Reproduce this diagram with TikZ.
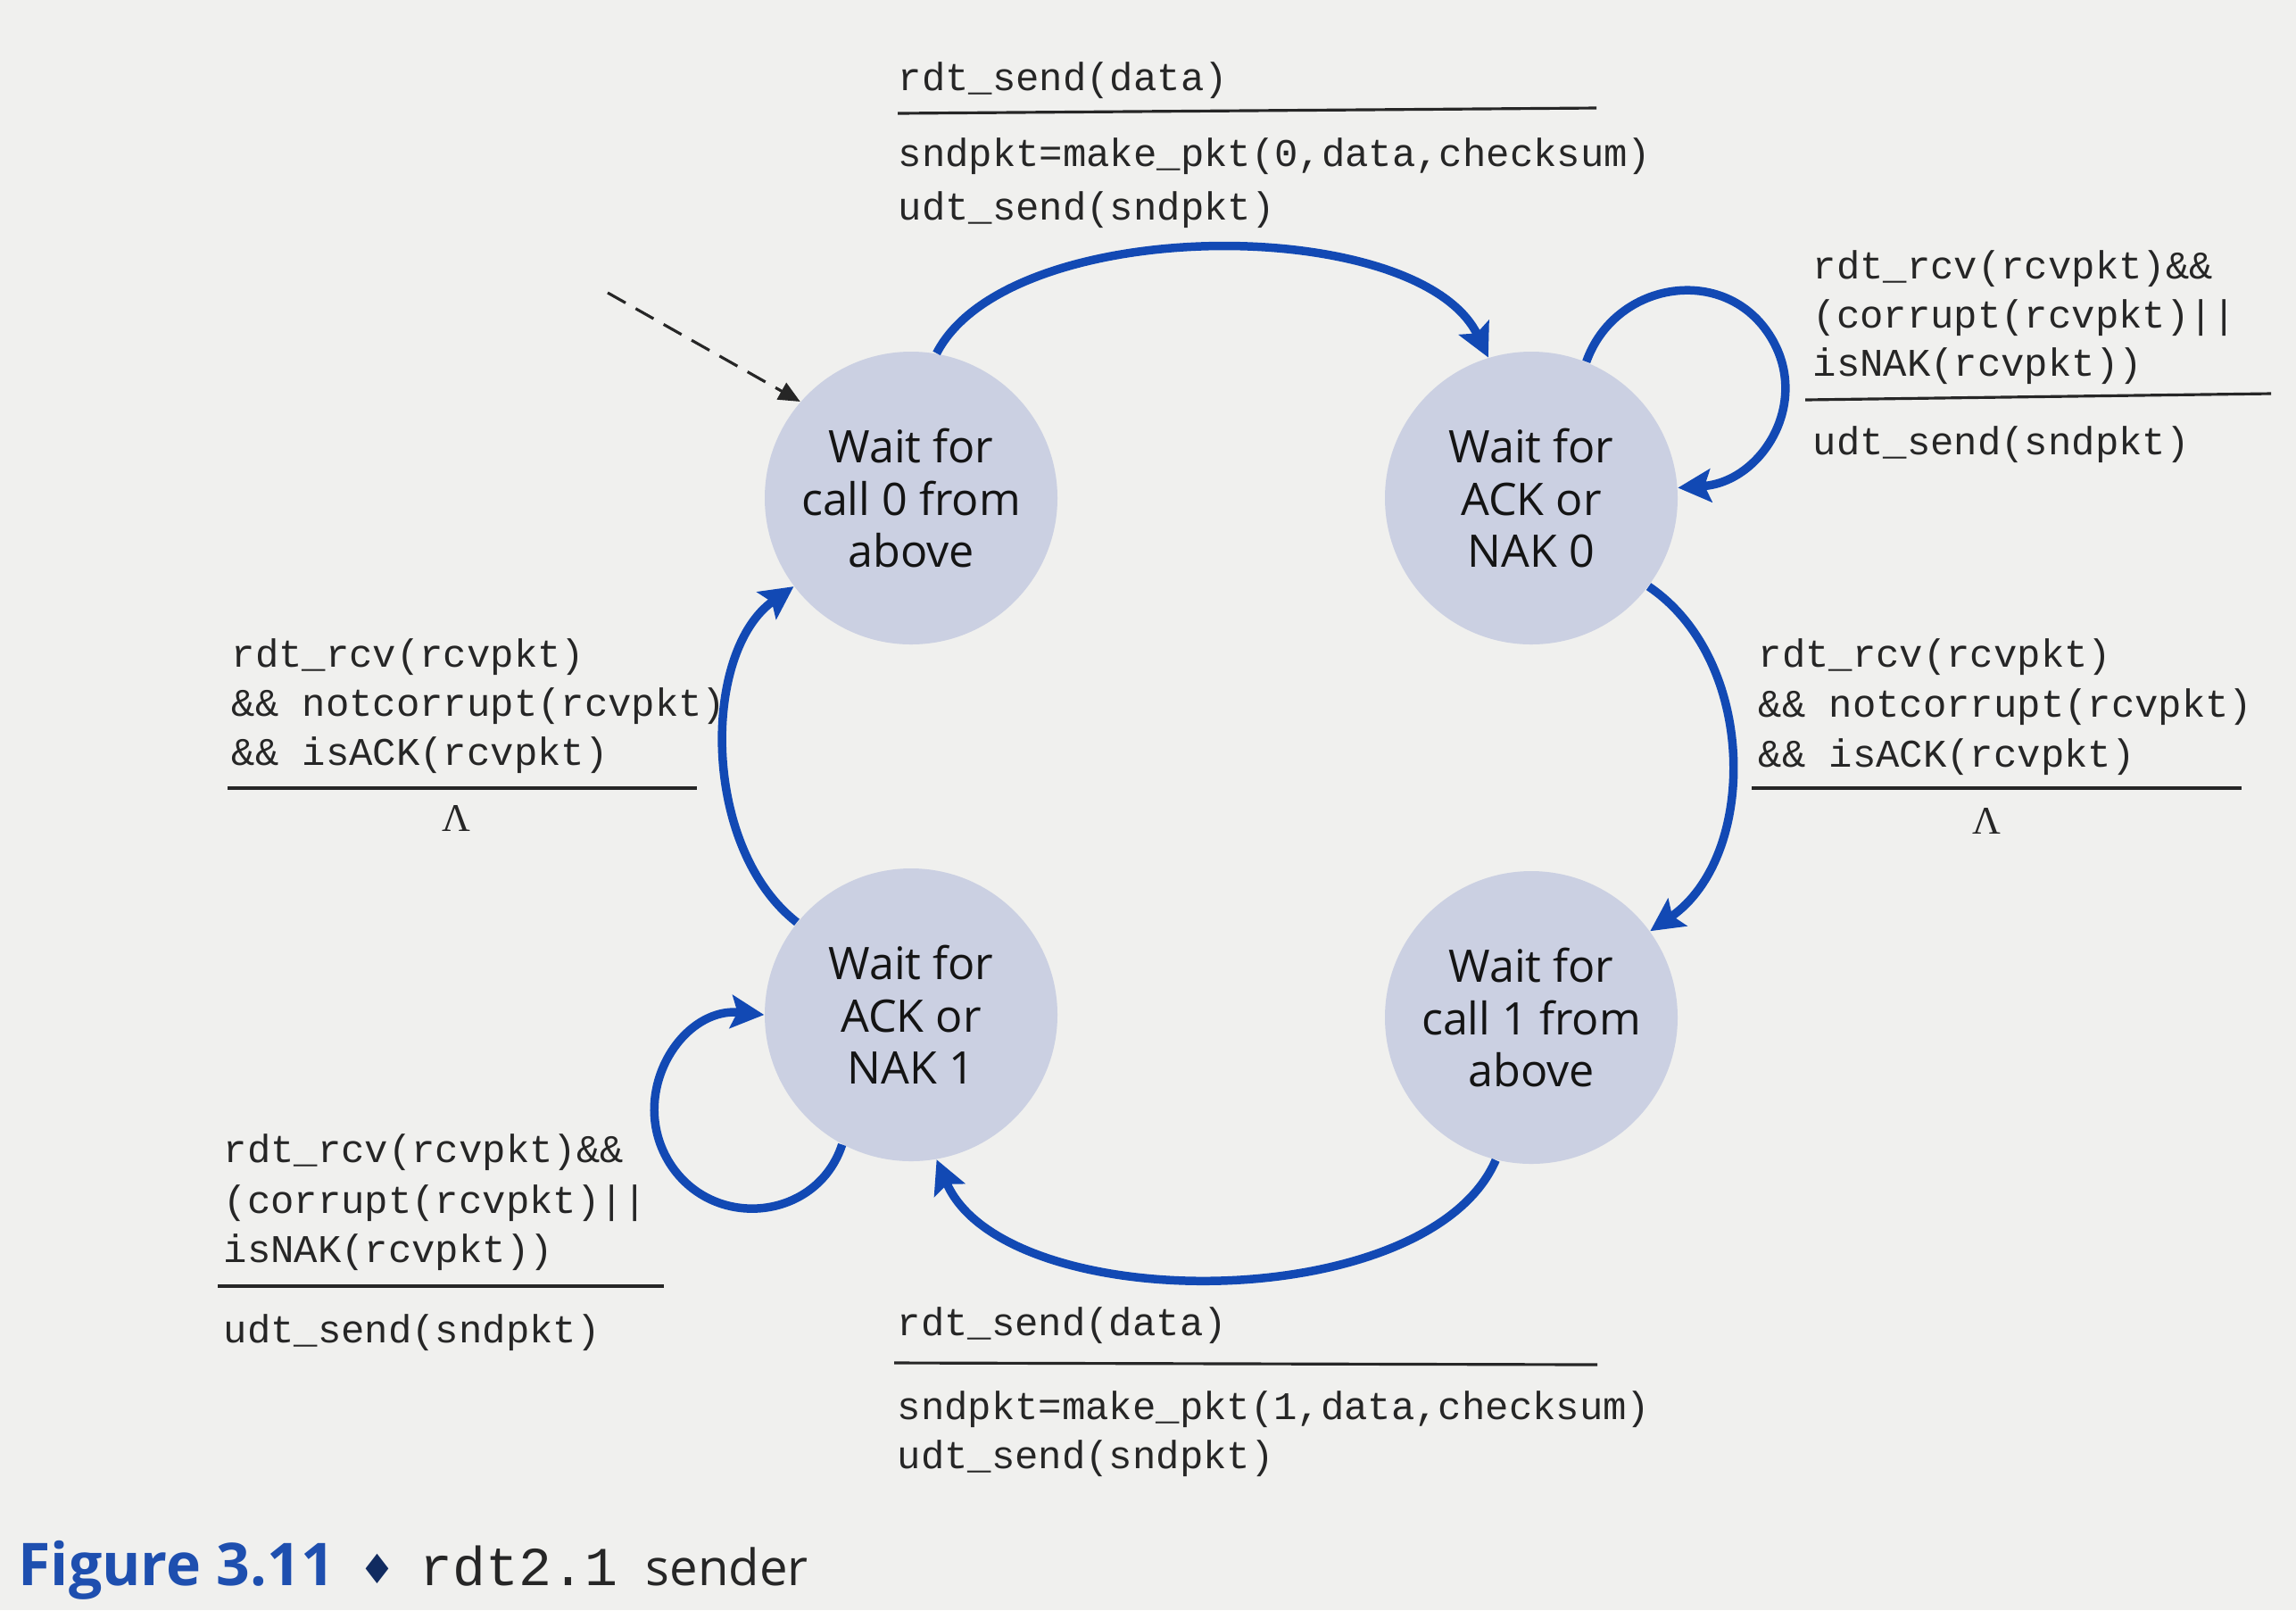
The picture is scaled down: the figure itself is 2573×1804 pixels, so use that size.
\documentclass[tikz,border=0pt]{standalone}
\usepackage{fontspec}
\setmainfont{Open Sans}
\setmonofont{Liberation Mono}
\newfontfamily\symfont{DejaVu Sans}
\newfontfamily\grkfont{Liberation Serif}
\usetikzlibrary{arrows.meta}
\definecolor{paper}{HTML}{F0F0EE}
\definecolor{statefill}{HTML}{CBD0E2}
\definecolor{fsmblue}{HTML}{1249B4}
\definecolor{capblue}{HTML}{1E4FAF}
\definecolor{ink}{HTML}{262626}
\begin{document}
\begin{tikzpicture}[x=0.1mm,y=0.1mm,
  state/.style={circle, fill=statefill, minimum size=32.8mm, inner sep=0pt,
    align=center, font=\fontsize{14.3}{16.6}\selectfont, text=black!92},
  trans/.style={draw=fsmblue, line width=2.7pt,
    -{Stealth[length=3.7mm,width=3.7mm,inset=0.7mm]}},
  code/.style={anchor=base west, inner sep=0pt,
    font=\ttfamily\fontsize{12.5}{15}\selectfont, text=ink},
  lam/.style={anchor=base, inner sep=0pt,
    font=\grkfont\fontsize{12.5}{15}\selectfont, text=ink},
  bar/.style={draw=ink, line width=0.9pt}]

% page
\fill[paper] (0,0) rectangle (2573,-1804);
\useasboundingbox (0,0) rectangle (2573,-1804);

% states
\node[state] (c0) at (1021,-558) {Wait for\\call 0 from\\above};
\node[state] (c1) at (1716,-558) {Wait for\\ACK or\\NAK 0};
\node[state] (c2) at (1021,-1137) {Wait for\\ACK or\\NAK 1};
\node[state] (c3) at (1716,-1140) {Wait for\\call 1 from\\above};

% initial transition
\coordinate (init) at (681,-328);
\draw[ink, line width=0.9pt, dash pattern=on 2.3mm off 1.3mm,
  -{Triangle[length=2.4mm,width=2.1mm]}] (init) -- (c0.139);

% transitions
\draw[trans] (c0.80) .. controls (1130,-239) and (1590,-239) .. (c1.107);
\draw[trans] (c1.68) .. controls (1809,-317) and (1927,-296) .. (1980,-371)
  .. controls (2033,-446) and (1976,-540) .. (c1.4);
\draw[trans] (c1.-37) .. controls (1970,-740) and (1970,-960) .. (c3.36);
\draw[trans] (c3.256) .. controls (1600,-1476) and (1125,-1476) .. (c2.280);
\draw[trans] (c2.242) .. controls (916,-1367) and (800,-1380) .. (751,-1304)
  .. controls (702,-1227) and (763,-1128) .. (c2.180);
\draw[trans] (c2.141) .. controls (786,-950) and (786,-730) .. (c0.217);

% label: call 0 -> wait ACK/NAK 0
\node[code] (la1) at (1006,-101) {rdt\_send(data)};
\draw[bar] (1006,-127) -- (1789,-121);
\node[code] (la2) at (1006,-186) {sndpkt=make\_pkt(0,data,checksum)};
\node[code] (la3) at (1006,-246) {udt\_send(sndpkt)};

% label: self loop on ACK/NAK 0
\node[code] (lb1) at (2031,-312) {rdt\_rcv(rcvpkt)\&\&};
\node[code] (lb2) at (2031,-367) {(corrupt(rcvpkt)||};
\node[code] (lb3) at (2031,-421) {isNAK(rcvpkt))};
\draw[bar] (2023,-448) -- (2545,-441);
\node[code] (lb4) at (2031,-509) {udt\_send(sndpkt)};

% label: ACK/NAK 0 -> call 1
\node[code] (lc1) at (1970,-747) {rdt\_rcv(rcvpkt)};
\node[code] (lc2) at (1970,-803) {\&\& notcorrupt(rcvpkt)};
\node[code] (lc3) at (1970,-859) {\&\& isACK(rcvpkt)};
\draw[bar] (1963,-883) -- (2512,-883);
\node[lam] (lc4) at (2226,-934) {Λ};

% label: ACK/NAK 1 -> call 0
\node[code] (ld1) at (259,-747) {rdt\_rcv(rcvpkt)};
\node[code] (ld2) at (259,-802) {\&\& notcorrupt(rcvpkt)};
\node[code] (ld3) at (259,-857) {\&\& isACK(rcvpkt)};
\draw[bar] (255,-883) -- (781,-883);
\node[lam] (ld4) at (511,-931) {Λ};

% label: self loop on ACK/NAK 1
\node[code] (le1) at (250,-1302) {rdt\_rcv(rcvpkt)\&\&};
\node[code] (le2) at (250,-1359) {(corrupt(rcvpkt)||};
\node[code] (le3) at (250,-1414) {isNAK(rcvpkt))};
\draw[bar] (244,-1441) -- (744,-1441);
\node[code] (le4) at (250,-1504) {udt\_send(sndpkt)};

% label: call 1 -> wait ACK/NAK 1
\node[code] (lf1) at (1005,-1496) {rdt\_send(data)};
\draw[bar] (1002,-1527) -- (1790,-1529);
\node[code] (lf2) at (1005,-1590) {sndpkt=make\_pkt(1,data,checksum)};
\node[code] (lf3) at (1005,-1645) {udt\_send(sndpkt)};

% caption
\node[anchor=base west, inner sep=0pt, text=capblue,
  font=\bfseries\fontsize{18.8}{20}\selectfont] (figno) at (20,-1776) {Figure 3.11};
\node[anchor=base, inner sep=0pt, text=capblue!55!black,
  font=\symfont\fontsize{13}{15}\selectfont] (figsep) at (423,-1774) {♦};
\node[anchor=base west, inner sep=0pt, text=ink,
  font=\ttfamily\fontsize{17.5}{20}\selectfont] (figcode) at (470,-1776) {rdt2.1};
\node[anchor=base west, inner sep=0pt, text=ink,
  font=\fontsize{16}{20}\selectfont] (figtxt) at (723,-1776) {sender};
\end{tikzpicture}
\end{document}
